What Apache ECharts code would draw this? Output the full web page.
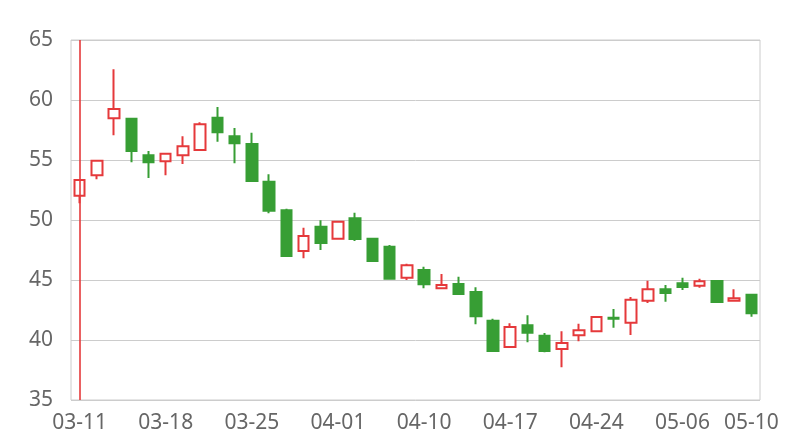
<!DOCTYPE html>
<html>
<head>
<meta charset="utf-8">
<script src="https://cdn.jsdelivr.net/npm/echarts@6/dist/echarts.min.js"></script>
<style>
  html, body { margin: 0; padding: 0; background: #fff; }
  #kline { width: 800px; height: 440px; }
</style>
</head>
<body>
<div id="kline"></div>
<script>
// trading days 2024-03-11 .. 2024-05-10
var dates = [
  "03-11", "03-12", "03-13", "03-14", "03-15",
  "03-18", "03-19", "03-20", "03-21", "03-22",
  "03-25", "03-26", "03-27", "03-28", "03-29",
  "04-01", "04-02", "04-03", "04-08", "04-09",
  "04-10", "04-11", "04-12", "04-15", "04-16",
  "04-17", "04-18", "04-19", "04-22", "04-23",
  "04-24", "04-25", "04-26", "04-29", "04-30",
  "05-06", "05-07", "05-08", "05-09", "05-10"
];
// open / close / low / high
var openVals = [
  52.03, 53.72, 58.47, 58.44, 55.39, 54.89, 55.39, 55.83, 58.53, 56.97,
  56.33, 53.19, 50.81, 47.42, 49.44, 48.44, 50.14, 48.44, 47.78, 45.19,
  45.83, 44.31, 44.67, 44.00, 41.61, 39.42, 41.22, 40.36, 39.25, 40.39,
  40.72, 41.85, 41.44, 43.28, 44.22, 44.72, 44.53, 44.92, 43.28, 43.78
];
var closeVals = [
  53.33, 54.94, 59.25, 55.75, 54.81, 55.53, 56.14, 57.97, 57.31, 56.39,
  53.25, 50.78, 47.00, 48.67, 48.08, 49.86, 48.42, 46.58, 45.11, 46.22,
  44.64, 44.58, 43.83, 41.97, 39.08, 41.08, 40.61, 39.08, 39.75, 40.81,
  41.92, 41.78, 43.36, 44.22, 43.92, 44.42, 44.89, 43.17, 43.47, 42.22
];
var lowVals = [
  51.40, 53.40, 57.06, 54.81, 53.50, 53.72, 54.67, 55.81, 56.53, 54.72,
  53.25, 50.56, 47.00, 46.81, 47.50, 48.36, 48.25, 46.58, 45.11, 45.00,
  44.31, 44.31, 43.83, 41.31, 39.08, 39.42, 39.81, 38.97, 37.72, 39.89,
  40.64, 41.03, 40.42, 43.08, 43.19, 44.17, 44.36, 43.17, 43.28, 41.94
];
var highVals = [
  53.40, 55.00, 62.56, 58.44, 55.75, 55.53, 56.97, 58.14, 59.42, 57.67,
  57.28, 53.81, 50.94, 49.36, 49.97, 49.90, 50.61, 48.44, 47.92, 46.36,
  46.11, 45.50, 45.28, 44.39, 41.78, 41.39, 42.06, 40.58, 40.72, 41.36,
  41.92, 42.58, 43.58, 44.94, 44.58, 45.19, 45.11, 44.92, 44.22, 43.78
];
var yTicks = [35, 40, 45, 50, 55, 60, 65];

var upColor = "#e5393b";
var downColor = "#379e34";

var kData = dates.map(function (d, i) {
  return [openVals[i], closeVals[i], lowVals[i], highVals[i]];
});

var myChart = echarts.init(document.getElementById("kline"));
var options = {
  animation: false,
  textStyle: {
    fontFamily: "Noto Sans",
  },
  grid: {
    left: 71,
    right: 40,
    top: 40,
    bottom: 40,
    show: true,
    borderColor: "#cccccc",
    borderWidth: 1,
  },
  xAxis: {
    type: "category",
    data: dates,
    axisLine: { show: false },
    axisTick: { show: false },
    splitLine: { show: false },
    axisLabel: {
      color: "#666",
      fontSize: 21,
      margin: 13,
      interval: function (i) {
        return i % 5 === 0 || i === dates.length - 1;
      },
    },
  },
  yAxis: {
    type: "value",
    min: yTicks[0],
    max: yTicks[yTicks.length - 1],
    interval: 5,
    axisLine: { show: false },
    axisTick: { show: false },
    splitLine: {
      show: true,
      lineStyle: { color: "#cccccc" },
    },
    axisLabel: {
      color: "#666",
      fontSize: 21,
      margin: 18,
    },
  },
  series: [
    {
      type: "candlestick",
      data: kData,
      barWidth: 11,
      itemStyle: {
        color: "#ffffff",
        color0: downColor,
        borderColor: upColor,
        borderColor0: downColor,
        borderWidth: 2,
      },
      markLine: {
        silent: true,
        symbol: "none",
        label: { show: false },
        lineStyle: {
          color: upColor,
          width: 2,
          type: "solid",
          opacity: 0.8,
        },
        data: [{ xAxis: dates[0] }],
      },
    },
  ],
};
myChart.setOption(options);
</script>
</body>
</html>
